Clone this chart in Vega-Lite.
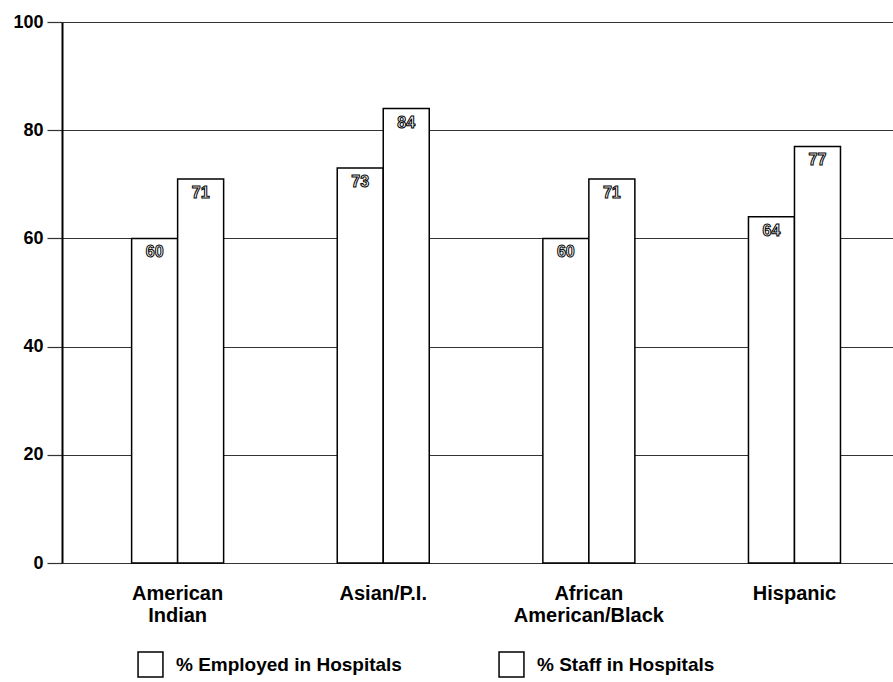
{
  "$schema": "https://vega.github.io/schema/vega-lite/v6.json",
  "width": 831,
  "height": 541,
  "autosize": "none",
  "padding": {"left": 62, "top": 22, "right": 0, "bottom": 119},
  "background": "white",
  "config": {
    "view": {"stroke": null},
    "font": "Liberation Sans"
  },
  "data": {
    "values": [
      {"group": "American Indian", "series": "% Employed in Hospitals", "value": 60},
      {"group": "American Indian", "series": "% Staff in Hospitals", "value": 71},
      {"group": "Asian/P.I.", "series": "% Employed in Hospitals", "value": 73},
      {"group": "Asian/P.I.", "series": "% Staff in Hospitals", "value": 84},
      {"group": "African American/Black", "series": "% Employed in Hospitals", "value": 60},
      {"group": "African American/Black", "series": "% Staff in Hospitals", "value": 71},
      {"group": "Hispanic", "series": "% Employed in Hospitals", "value": 64},
      {"group": "Hispanic", "series": "% Staff in Hospitals", "value": 77}
    ]
  },
  "encoding": {
    "x": {
      "field": "group",
      "type": "nominal",
      "sort": null,
      "title": null,
      "scale": {"paddingInner": 0.5525, "paddingOuter": 0.297, "align": 0.57},
      "axis": {
        "domain": false,
        "ticks": false,
        "labelAngle": 0,
        "labelFont": "Liberation Sans",
        "labelFontWeight": "bold",
        "labelFontSize": 20,
        "labelColor": "black",
        "labelPadding": 20,
        "labelLineHeight": 22,
        "labelExpr": "datum.value == 'American Indian' ? ['American', 'Indian'] : datum.value == 'African American/Black' ? ['African', 'American/Black'] : datum.value"
      }
    },
    "xOffset": {
      "field": "series",
      "type": "nominal",
      "sort": null,
      "scale": {"paddingInner": 0, "paddingOuter": 0}
    },
    "y": {
      "field": "value",
      "type": "quantitative",
      "title": null,
      "scale": {"domain": [0, 100], "nice": false},
      "axis": {
        "values": [0, 20, 40, 60, 80, 100],
        "grid": true,
        "gridColor": "#333333",
        "gridWidth": 1.2,
        "gridOpacity": 1,
        "domainColor": "black",
        "domainWidth": 2,
        "tickColor": "#333333",
        "tickWidth": 1.2,
        "tickSize": 15,
        "labelPadding": 4,
        "labelFont": "Liberation Sans",
        "labelFontWeight": "bold",
        "labelFontSize": 18,
        "labelColor": "black"
      }
    }
  },
  "layer": [
    {
      "mark": {"type": "bar", "stroke": "black", "strokeWidth": 1.5, "fillOpacity": 1},
      "encoding": {
        "color": {
          "field": "series",
          "type": "nominal",
          "sort": null,
          "title": null,
          "scale": {"range": ["white", "white"]},
          "legend": {
            "orient": "none",
            "legendX": 75,
            "legendY": 629,
            "direction": "horizontal",
            "symbolType": "square",
            "symbolSize": 620,
            "symbolStrokeColor": "black",
            "symbolStrokeWidth": 1.5,
            "symbolFillColor": "white",
            "symbolOpacity": 1,
            "labelFont": "Liberation Sans",
            "labelFontWeight": "bold",
            "labelFontSize": 19,
            "labelColor": "black",
            "labelOffset": 12,
            "labelLimit": 400,
            "columnPadding": 94
          }
        }
      }
    },
    {
      "mark": {
        "type": "text",
        "baseline": "top",
        "dy": 6,
        "font": "Liberation Sans",
        "fontWeight": "bold",
        "fontSize": 16,
        "fill": "white",
        "stroke": "black",
        "strokeWidth": 1
      },
      "encoding": {
        "text": {"field": "value", "type": "quantitative"}
      }
    }
  ]
}
